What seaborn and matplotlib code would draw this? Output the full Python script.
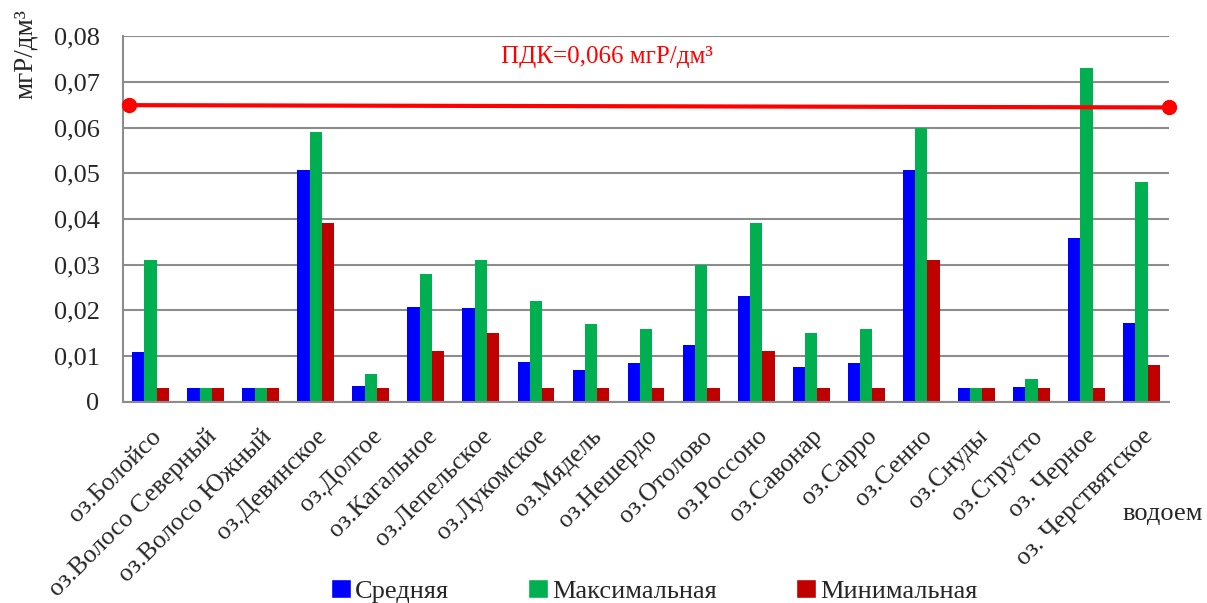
import matplotlib
matplotlib.use("Agg")
import matplotlib.pyplot as plt
from matplotlib.ticker import FuncFormatter
from matplotlib.patches import Patch
import seaborn as sns
import pandas as pd

lakes = ["оз.Болойсо", "оз.Волосо Северный", "оз.Волосо Южный", "оз.Девинское",
         "оз.Долгое", "оз.Кагальное", "оз.Лепельское", "оз.Лукомское", "оз.Мядель",
         "оз.Нешердо", "оз.Отолово", "оз.Россоно", "оз.Савонар", "оз.Сарро",
         "оз.Сенно", "оз.Снуды", "оз.Струсто", "оз. Черное", "оз. Черствятское"]
mean_vals = [0.0109, 0.003, 0.003, 0.0507, 0.0034, 0.0207, 0.0205, 0.0086, 0.007,
             0.0085, 0.0125, 0.0232, 0.0075, 0.0084, 0.0506, 0.003, 0.0032, 0.0358, 0.0172]
max_vals = [0.031, 0.003, 0.003, 0.059, 0.006, 0.028, 0.031, 0.022, 0.017,
            0.016, 0.030, 0.039, 0.015, 0.016, 0.060, 0.003, 0.005, 0.073, 0.048]
min_vals = [0.003, 0.003, 0.003, 0.039, 0.003, 0.011, 0.015, 0.003, 0.003,
            0.003, 0.003, 0.011, 0.003, 0.003, 0.031, 0.003, 0.003, 0.003, 0.008]
series = ["Средняя", "Максимальная", "Минимальная"]
colors = ["#0000FF", "#00B050", "#C00000"]
pdk_line = [0.0649, 0.0644]

df = pd.DataFrame({
    "lake": lakes * 3,
    "value": mean_vals + max_vals + min_vals,
    "series": [s for s in series for _ in lakes],
})

sns.set_style("white")
plt.rcParams["font.family"] = ["Liberation Serif", "DejaVu Serif"]

fig = plt.figure(figsize=(12.07, 6.03), dpi=100)
ax = fig.add_axes([0.102, 0.334, 0.8665, 0.606])

sns.barplot(data=df, x="lake", y="value", hue="series", palette=colors,
            width=0.67, ax=ax, legend=False, saturation=1, linewidth=0)

ax.set_xlim(-0.5, len(lakes) - 0.5)
ax.set_ylim(0, 0.08)
ax.set_yticks([i / 100 for i in range(9)])
ax.yaxis.set_major_formatter(FuncFormatter(lambda v, p: "0" if v == 0 else f"{v:.2f}".replace(".", ",")))
ax.grid(axis="y", color="#8c8c8c", linewidth=1.5)
ax.set_axisbelow(True)
for s in ["top", "right"]:
    ax.spines[s].set_visible(False)
for s in ["left", "bottom"]:
    ax.spines[s].set_color("#8c8c8c")
    ax.spines[s].set_linewidth(1.5)
ax.tick_params(axis="y", length=0, labelsize=19, pad=17)
ax.tick_params(axis="x", length=0, labelsize=18.5, pad=17)
ax.set_xlabel("")
ax.set_ylabel("")
plt.setp(ax.get_xticklabels(), rotation=45, ha="right", rotation_mode="anchor")

xl = ax.get_xlim()
ax.plot([xl[0] + 0.1, xl[1]], pdk_line, color="red", linewidth=3, marker="o",
        markersize=10, clip_on=False, zorder=5)
ax.text(0.463, 0.943, "ПДК=0,066 мгР/дм³", transform=ax.transAxes, color="red",
        fontsize=18, ha="center", va="center")

fig.text(0.021, 0.91, "мгР/дм³", rotation=90, fontsize=19.5, ha="center", va="center")
fig.text(0.963, 0.148, "водоем", fontsize=19, ha="center", va="center")

handles = [Patch(facecolor=c, label=s) for c, s in zip(colors, series)]
fig.legend(handles=handles, loc="center", bbox_to_anchor=(0.542, 0.02), ncol=3,
           frameon=False, fontsize=19, handlelength=0.75, handleheight=0.75,
           handletextpad=0.15, columnspacing=3.0, borderpad=0)

fig.savefig("out.png", dpi=100)
